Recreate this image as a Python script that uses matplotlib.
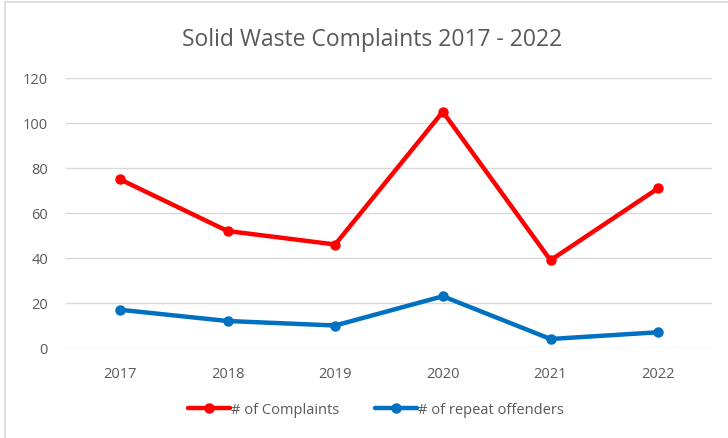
import matplotlib.pyplot as plt
from matplotlib.patches import Rectangle

years = ["2017", "2018", "2019", "2020", "2021", "2022"]
complaints = [75, 52, 46, 105, 39, 71]
repeat_offenders = [17, 12, 10, 23, 4, 7]
y_ticks = [0, 20, 40, 60, 80, 100, 120]

plt.rcParams['font.family'] = ['Open Sans', 'DejaVu Sans']
gray = "#595959"

fig = plt.figure(figsize=(7.28, 4.39), dpi=100)
ax = fig.add_axes([66/728, 1 - 349/439, (712 - 66)/728, (349 - 79)/439])

x = range(len(years))
ax.plot(x, complaints, color="#FF0000", lw=3.2, marker="o", ms=6.5,
        solid_capstyle="round", label="# of Complaints")
ax.plot(x, repeat_offenders, color="#0070C0", lw=3.2, marker="o", ms=6.5,
        solid_capstyle="round", label="# of repeat offenders")

ax.set_xlim(-0.5, len(years) - 0.5)
ax.set_ylim(0, 120)
ax.set_yticks(y_ticks)
ax.set_xticks(list(x))
ax.set_xticklabels(years)
ax.grid(axis="y", color="#D9D9D9", lw=1)
ax.set_axisbelow(True)
for s in ax.spines.values():
    s.set_visible(False)
ax.tick_params(length=0, colors=gray, labelsize=10.5)
ax.tick_params(axis="y", pad=13)
ax.tick_params(axis="x", pad=13)

fig.text(372/728, 1 - 40/439, "Solid Waste Complaints 2017 - 2022",
         ha="center", va="center", fontsize=16.5, color=gray)

leg = fig.legend(loc="center", bbox_to_anchor=(376/728, 1 - 411/439), ncol=2,
                 frameon=False, fontsize=10.5, handlelength=2.9, handletextpad=0.1,
                 columnspacing=2.4)
for t in leg.get_texts():
    t.set_color(gray)

fig.patches.append(Rectangle((5/728, -0.1), 2, 1 - 3/439 + 0.1, transform=fig.transFigure,
                             fill=False, edgecolor="#D9D9D9", lw=1.2))

fig.savefig("out.png", dpi=100)
